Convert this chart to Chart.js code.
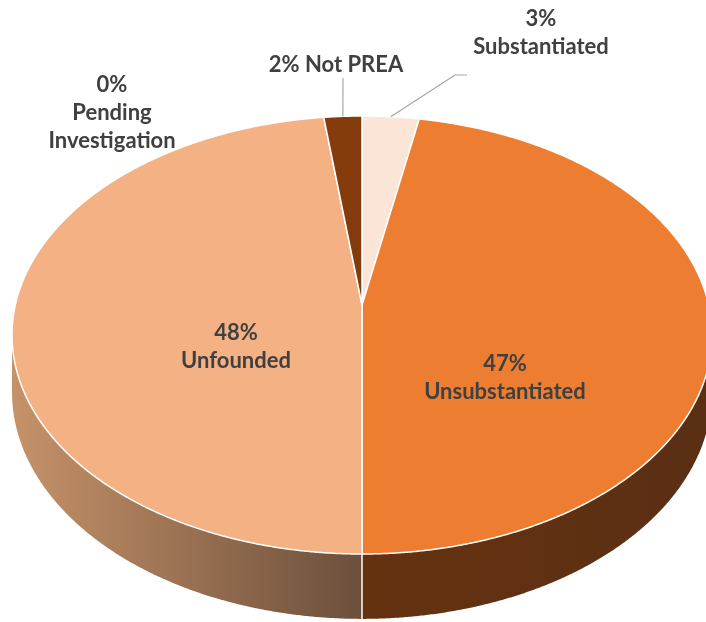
<!DOCTYPE html>
<html>
<head>
<meta charset="utf-8">
<script src="https://cdn.jsdelivr.net/npm/chart.js@4"></script>
<style>
  html, body { margin: 0; padding: 0; background: #fff; }
  canvas { display: block; }
</style>
</head>
<body>
<canvas id="pie" width="706" height="622"></canvas>
<script>
// data (clockwise from 12 o'clock)
const categories = ['Substantiated', 'Unsubstantiated', 'Unfounded', 'Pending Investigation', 'Not PREA'];
const percents = [3, 47, 48, 0, 2];
const topColors = ['#FBE5D6', '#ED7D31', '#F4B183', '#C55A11', '#843C0C'];
const labelLines = [
    ['3%', 'Substantiated'],
    ['47%', 'Unsubstantiated'],
    ['48%', 'Unfounded'],
    ['0%', 'Pending', 'Investigation'],
    ['2% Not PREA']
];

// perspective of the tilted disc
const view = { cx: 362, cy: 305, a: 346.7, b: 173.1, k: -0.137, depth: 56 };
function proj(ang, r, dz) {
    const u = r * Math.cos(ang), v = r * Math.sin(ang);
    const w = 1 + view.k * v;
    return [view.cx + view.a * u / w, (view.cy + view.b * v + dz) / w];
}

const labelSpots = [
    { x: 541, y: 19, lead: [[455, 75], [467, 75]] },
    { x: 505, y: 364 },
    { x: 236, y: 333 },
    { x: 112, y: 85 },
    { x: 336, y: 65, lead: [[343, 78]] }
];

const wallFill = {
    1: ['#64320F', '#5B2F15'],
    2: ['#C69269', '#6C4F3C']
};

const pie3d = {
    id: 'pie3d',
    beforeDatasetsDraw(chart) {
        const ctx = chart.ctx;
        const arcs = chart.getDatasetMeta(0).data;
        const t0 = Math.asin(-view.k), t1 = Math.PI - t0;
        const step = Math.PI / 720;

        // side walls
        arcs.forEach((arc, i) => {
            const lo = Math.max(arc.startAngle, t0), hi = Math.min(arc.endAngle, t1);
            if (hi <= lo) return;
            const pts = [];
            for (let t = lo; t < hi; t += step) pts.push(proj(t, 1, 0));
            pts.push(proj(hi, 1, 0));
            for (let t = hi; t > lo; t -= step) pts.push(proj(t, 1, view.depth));
            pts.push(proj(lo, 1, view.depth));
            const xs = pts.map(p => p[0]);
            const g = ctx.createLinearGradient(Math.min(...xs), 0, Math.max(...xs), 0);
            const c = wallFill[i] || [topColors[i], topColors[i]];
            g.addColorStop(0, c[0]);
            g.addColorStop(1, c[1]);
            ctx.beginPath();
            pts.forEach((p, j) => j ? ctx.lineTo(p[0], p[1]) : ctx.moveTo(p[0], p[1]));
            ctx.closePath();
            ctx.fillStyle = g;
            ctx.fill();
        });
        // white seams on the wall
        ctx.strokeStyle = '#ffffff';
        ctx.lineWidth = 1.5;
        arcs.forEach(arc => {
            const t = arc.startAngle;
            if (t > t0 && t < t1) {
                const p = proj(t, 1, 0), q = proj(t, 1, view.depth);
                ctx.beginPath();
                ctx.moveTo(p[0], p[1]);
                ctx.lineTo(q[0], q[1]);
                ctx.stroke();
            }
        });

        // top faces
        arcs.forEach((arc, i) => {
            if (arc.endAngle - arc.startAngle <= 0) return;
            const c0 = proj(0, 0, 0);
            ctx.beginPath();
            ctx.moveTo(c0[0], c0[1]);
            for (let t = arc.startAngle; t < arc.endAngle; t += step) {
                const p = proj(t, 1, 0);
                ctx.lineTo(p[0], p[1]);
            }
            const e = proj(arc.endAngle, 1, 0);
            ctx.lineTo(e[0], e[1]);
            ctx.closePath();
            ctx.fillStyle = topColors[i];
            ctx.fill();
            ctx.lineJoin = 'round';
            ctx.strokeStyle = '#ffffff';
            ctx.lineWidth = 1.5;
            ctx.stroke();
        });
        return false;
    },
    afterDraw(chart) {
        const ctx = chart.ctx;
        const arcs = chart.getDatasetMeta(0).data;
        ctx.save();
        ctx.font = 'bold 22px Lato';
        ctx.fillStyle = '#404040';
        ctx.textAlign = 'center';
        ctx.textBaseline = 'middle';
        labelLines.forEach((lines, i) => {
            const s = labelSpots[i];
            lines.forEach((txt, j) => ctx.fillText(txt, s.x, s.y + j * 28));
            if (s.lead) {
                const arc = arcs[i];
                const p = proj((arc.startAngle + arc.endAngle) / 2, 1, 0);
                ctx.beginPath();
                ctx.moveTo(p[0], p[1]);
                s.lead.forEach(q => ctx.lineTo(q[0], q[1]));
                ctx.strokeStyle = '#A6A6A6';
                ctx.lineWidth = 1.2;
                ctx.stroke();
            }
        });
        ctx.restore();
    }
};

new Chart(document.getElementById('pie').getContext('2d'), {
    type: 'pie',
    data: {
        labels: categories,
        datasets: [{ data: percents, backgroundColor: topColors, borderColor: '#ffffff' }]
    },
    options: {
        responsive: false,
        animation: false,
        events: [],
        plugins: { legend: { display: false }, tooltip: { enabled: false } }
    },
    plugins: [pie3d]
});
</script>
</body>
</html>
